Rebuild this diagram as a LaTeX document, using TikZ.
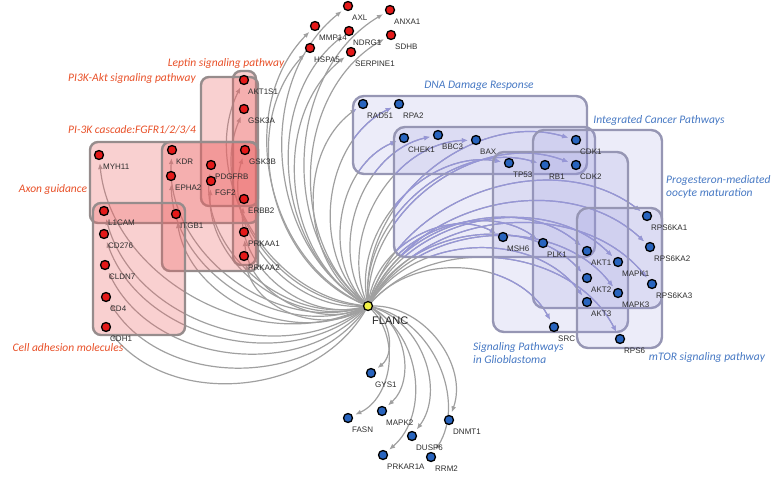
\documentclass[tikz,border=0pt]{standalone}
\usepackage{fontspec}
\setmainfont{Liberation Sans}
\newfontfamily\pathfont{Carlito}
\usetikzlibrary{arrows.meta}
\pgfdeclarelayer{edgelayer}
\pgfdeclarelayer{boxlayer}
\pgfsetlayers{edgelayer,boxlayer,main}

\definecolor{edgegray}{RGB}{160,160,160}
\definecolor{edgeblue}{RGB}{150,150,215}
\definecolor{redfill}{RGB}{235,100,100}
\definecolor{bluefill}{RGB}{150,150,220}
\definecolor{redborder}{RGB}{150,140,140}
\definecolor{blueborder}{RGB}{150,150,180}
\definecolor{reddot}{RGB}{228,25,25}
\definecolor{bluedot}{RGB}{40,100,190}
\definecolor{yeldot}{RGB}{240,240,70}
\definecolor{redtxt}{RGB}{232,80,40}
\definecolor{bluetxt}{RGB}{70,120,195}
\definecolor{lbltxt}{RGB}{45,45,45}

\tikzset{
  dotbase/.style={circle, draw=black, line width=1.3pt, minimum size=9pt, inner sep=0pt},
  rdot/.style={dotbase, fill=reddot},
  bdot/.style={dotbase, fill=bluedot},
  ydot/.style={dotbase, fill=yeldot},
  lbl/.style={anchor=west, inner sep=0pt, font=\fontsize{8}{9}\selectfont, text=lbltxt},
  redbox/.style={draw=redborder, line width=2.4pt, fill=redfill, fill opacity=0.3, rounded corners=8pt},
  bluebox/.style={draw=blueborder, line width=2.4pt, fill=bluefill, fill opacity=0.18, rounded corners=11pt},
  redpath/.style={text=redtxt, inner sep=0pt, font=\pathfont\itshape\fontsize{11.5}{13}\selectfont},
  bluepath/.style={text=bluetxt, inner sep=0pt, align=left, font=\pathfont\itshape\fontsize{11.5}{13}\selectfont},
  edgeline/.style={draw=edgegray, line width=1.2pt, -{Latex[length=6pt,width=5pt]}, shorten >=3pt, bend left=55},
}

\newcommand\gene[5]{\node[#1] (#2) at (#3,#4) {}; \node[lbl] (#2-l) at (#3+4,#4+12) {#5};}
\newcommand\alltargets{axl,anxa1,mmp14,ndrg1,sdhb,hspa5,serpine1,myh11,kdr,epha2,pdgfrb,fgf2,akt1s1,gsk3a,gsk3b,erbb2,l1cam,itgb1,prkaa1,prkaa2,cd276,cldn7,cd4,cdh1,rad51,rpa2,chek1,bbc3,bax,cdk1,tp53,rb1,cdk2,msh6,plk1,akt1,mapk1,akt2,mapk3,akt3,src,rps6,rps6ka1,rps6ka2,rps6ka3,gys1,fasn,mapk2,dnmt1,dusp6,prkar1a,rrm2}

\begin{document}
\begin{tikzpicture}[x=1pt,y=-1pt]
\useasboundingbox (0,0) rectangle (771,479);

% central node
\node[ydot] (flanc) at (368,306) {};
\node[anchor=west, inner sep=0pt, font=\fontsize{11}{13}\selectfont, text=black!85] (flanc-l) at (372,321) {FLANC};

% top red genes
\gene{rdot}{axl}{348}{6}{AXL}
\gene{rdot}{anxa1}{390}{10}{ANXA1}
\gene{rdot}{mmp14}{315}{26}{MMP14}
\gene{rdot}{ndrg1}{349}{31}{NDRG1}
\gene{rdot}{sdhb}{391}{35}{SDHB}
\gene{rdot}{hspa5}{310}{48}{HSPA5}
\gene{rdot}{serpine1}{351}{52}{SERPINE1}

% red cluster
\gene{rdot}{myh11}{99}{155}{MYH11}
\gene{rdot}{kdr}{172}{150}{KDR}
\gene{rdot}{epha2}{171}{176}{EPHA2}
\gene{rdot}{pdgfrb}{211}{165}{PDGFRB}
\gene{rdot}{fgf2}{211}{181}{FGF2}
\gene{rdot}{akt1s1}{244}{80}{AKT1S1}
\gene{rdot}{gsk3a}{244}{109}{GSK3A}
\gene{rdot}{gsk3b}{245}{150}{GSK3B}
\gene{rdot}{erbb2}{244}{199}{ERBB2}
\gene{rdot}{l1cam}{104}{211}{L1CAM}
\gene{rdot}{itgb1}{176}{214}{ITGB1}
\gene{rdot}{prkaa1}{244}{232}{PRKAA1}
\gene{rdot}{prkaa2}{244}{256}{PRKAA2}
\gene{rdot}{cd276}{104}{234}{CD276}
\gene{rdot}{cldn7}{105}{265}{CLDN7}
\gene{rdot}{cd4}{106}{297}{CD4}
\gene{rdot}{cdh1}{106}{327}{CDH1}

% blue cluster
\gene{bdot}{rad51}{363}{104}{RAD51}
\gene{bdot}{rpa2}{399}{104}{RPA2}
\gene{bdot}{chek1}{404}{138}{CHEK1}
\gene{bdot}{bbc3}{438}{135}{BBC3}
\gene{bdot}{bax}{476}{140}{BAX}
\gene{bdot}{cdk1}{576}{140}{CDK1}
\gene{bdot}{tp53}{509}{163}{TP53}
\gene{bdot}{rb1}{545}{165}{RB1}
\gene{bdot}{cdk2}{576}{165}{CDK2}
\gene{bdot}{msh6}{503}{237}{MSH6}
\gene{bdot}{plk1}{543}{243}{PLK1}
\gene{bdot}{akt1}{587}{251}{AKT1}
\gene{bdot}{mapk1}{618}{262}{MAPK1}
\gene{bdot}{akt2}{587}{278}{AKT2}
\gene{bdot}{mapk3}{618}{293}{MAPK3}
\gene{bdot}{akt3}{587}{302}{AKT3}
\gene{bdot}{src}{554}{327}{SRC}
\gene{bdot}{rps6}{620}{339}{RPS6}
\gene{bdot}{rps6ka1}{647}{216}{RPS6KA1}
\gene{bdot}{rps6ka2}{650}{247}{RPS6KA2}
\gene{bdot}{rps6ka3}{652}{284}{RPS6KA3}

% bottom blue genes
\gene{bdot}{gys1}{371}{373}{GYS1}
\gene{bdot}{fasn}{348}{418}{FASN}
\gene{bdot}{mapk2}{382}{411}{MAPK2}
\gene{bdot}{dnmt1}{449}{420}{DNMT1}
\gene{bdot}{dusp6}{412}{436}{DUSP6}
\gene{bdot}{prkar1a}{383}{455}{PRKAR1A}
\gene{bdot}{rrm2}{431}{457}{RRM2}

% edges
\begin{pgfonlayer}{edgelayer}
  \foreach \t in \alltargets { \draw[edgeline] (flanc) to (\t); }
  \begin{scope}
    \clip[rounded corners=11pt] (353,96) rectangle (587,174)
      (394,127) rectangle (595,257) (533,130) rectangle (662,308)
      (493,152) rectangle (628,332) (577,208) rectangle (662,348);
    \foreach \t in \alltargets { \draw[edgeline, draw=edgeblue] (flanc) to (\t); }
  \end{scope}
\end{pgfonlayer}

% pathway boxes
\begin{pgfonlayer}{boxlayer}
  \draw[redbox] (233,71) rectangle (256,265);
  \draw[redbox] (201,77) rectangle (258,206);
  \draw[redbox] (90,142) rectangle (258,223);
  \draw[redbox] (162,142) rectangle (258,271);
  \draw[redbox] (93,203) rectangle (185,335);
  \draw[bluebox] (353,96) rectangle (587,174);
  \draw[bluebox] (394,127) rectangle (595,257);
  \draw[bluebox] (533,130) rectangle (662,308);
  \draw[bluebox] (493,152) rectangle (628,332);
  \draw[bluebox] (577,208) rectangle (662,348);
\end{pgfonlayer}

% pathway labels
\node[redpath] (lep) at (226,63) {Leptin signaling pathway};
\node[redpath] (pi3kakt) at (132,78) {PI3K-Akt signaling pathway};
\node[redpath] (pi3kc) at (132,130) {PI-3K cascade:FGFR1/2/3/4};
\node[redpath] (axon) at (53,189) {Axon guidance};
\node[redpath] (cam) at (68,348) {Cell adhesion molecules};
\node[bluepath] (dna) at (479,86) {DNA Damage Response};
\node[bluepath] (icp) at (659,120) {Integrated Cancer Pathways};
\node[bluepath, anchor=west] (prog) at (666,186.5) {Progesteron-mediated\\oocyte maturation};
\node[bluepath, anchor=west] (gbm) at (473,353.5) {Signaling Pathways\\in Glioblastoma};
\node[bluepath] (mtor) at (707,357) {mTOR signaling pathway};
\end{tikzpicture}
\end{document}
